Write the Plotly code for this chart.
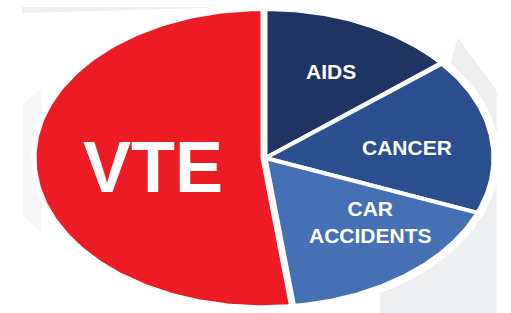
import numpy as np
import plotly.graph_objects as go

# ---- data ----
categories = ["AIDS", "CANCER", "CAR ACCIDENTS", "VTE"]
values = [14, 17, 17, 52]          # share of deaths
label_text = ["AIDS", "CANCER", "CAR<br>ACCIDENTS", "VTE"]
colors = ["#1F3463", "#2B4E8E", "#4570B4", "#ED1C24"]

W, H = 511, 313
cx, cy = 265.5, 155.0      # ellipse centre (y up)
a, b = 228.0, 149.0        # semi-axes

fig = go.Figure()

# faint grey backdrop shapes behind the ellipse
bg_polys = [
    ([458, 497, 497, 380, 380], [275, 222, 0, 0, 20], "#EEEFF1"),
    ([22, 240, 22], [306, 306, 300], "#EEEFF1"),
    ([22, 42, 42, 22], [208, 225, 80, 98], "#F5F6F7"),
]
for xs, ys, c in bg_polys:
    fig.add_trace(go.Scatter(x=xs, y=ys, fill="toself", fillcolor=c, mode="none",
                             hoverinfo="skip", showlegend=False))

# white ring around the ellipse
t = np.linspace(0, 2 * np.pi, 400)
fig.add_trace(go.Scatter(x=cx + (a + 6) * np.cos(t), y=cy + (b + 6) * np.sin(t),
                         fill="toself", fillcolor="white", mode="none",
                         hoverinfo="skip", showlegend=False))

# slices (clockwise from 12 o'clock), parametric angles on the ellipse
total = float(sum(values))
start = 90.0
explode = {"VTE": 3.0}
for cat, v, col in zip(categories, values, colors):
    sweep = 360.0 * v / total
    end = start - sweep
    th = np.radians(np.linspace(start, end, 200))
    mid = np.radians((start + end) / 2)
    off = explode.get(cat, 0.0)
    ox, oy = off * np.cos(mid), off * np.sin(mid)
    xs = np.concatenate([[cx], cx + a * np.cos(th), [cx]]) + ox
    ys = np.concatenate([[cy], cy + b * np.sin(th), [cy]]) + oy
    fig.add_trace(go.Scatter(x=xs, y=ys, fill="toself", fillcolor=col,
                             mode="lines", line=dict(color="white", width=4),
                             name=cat, hoverinfo="name", showlegend=False))
    start = end

# labels
label_pos = {
    "AIDS": (331, 242),
    "CANCER": (407, 166),
    "CAR ACCIDENTS": (370, 91),
    "VTE": (153, 146),
}
for cat, txt in zip(categories, label_text):
    size = 72 if cat == "VTE" else 21
    x, y = label_pos[cat]
    fig.add_annotation(x=x, y=y, text=txt, showarrow=False,
                       xanchor="center", yanchor="middle", align="center",
                       font=dict(family="Liberation Sans, Arial, sans-serif",
                                 size=size, color="white", weight=700))

fig.update_layout(
    width=W, height=H, margin=dict(l=0, r=0, t=0, b=0),
    paper_bgcolor="white", plot_bgcolor="white",
    xaxis=dict(range=[0, W], visible=False, fixedrange=True),
    yaxis=dict(range=[0, H], visible=False, fixedrange=True),
    showlegend=False,
)
fig.write_html("out.html", config={"displayModeBar": False},
               post_script="document.body.style.margin='0';")
